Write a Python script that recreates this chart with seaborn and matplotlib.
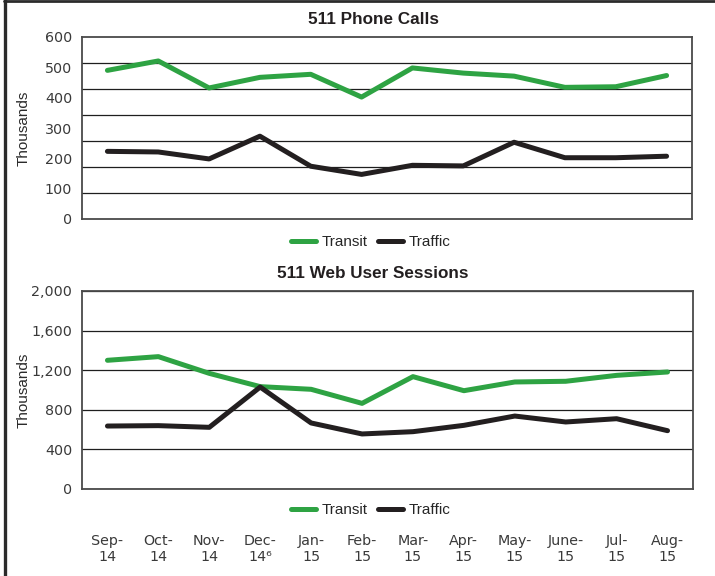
import numpy as np
import pandas as pd
import matplotlib
matplotlib.use("Agg")
import matplotlib.pyplot as plt
import seaborn as sns
from matplotlib.lines import Line2D

# ---------------- data ----------------
months = ["Sep-14", "Oct-14", "Nov-14", "Dec-14", "Jan-15", "Feb-15",
          "Mar-15", "Apr-15", "May-15", "June-15", "Jul-15", "Aug-15"]
tick_labels = ["Sep-\n14", "Oct-\n14", "Nov-\n14", "Dec-\n14\u2076", "Jan-\n15", "Feb-\n15",
               "Mar-\n15", "Apr-\n15", "May-\n15", "June-\n15", "Jul-\n15", "Aug-\n15"]
phone_transit = [490, 521, 432, 467, 477, 402, 498, 481, 471, 434, 436, 473]
phone_traffic = [223, 221, 198, 273, 174, 147, 177, 175, 253, 202, 202, 207]
web_transit = [1300, 1337, 1168, 1034, 1007, 865, 1135, 993, 1081, 1088, 1148, 1182]
web_traffic = [636, 640, 623, 1030, 667, 556, 579, 643, 737, 677, 710, 589]
phone_ticks = [0, 100, 200, 300, 400, 500, 600]
web_ticks = [0, 400, 800, 1200, 1600, 2000]
series_names = ["Transit", "Traffic"]
colors = {"Transit": "#2ea343", "Traffic": "#231f20"}
titles = ["511 Phone Calls", "511 Web User Sessions"]

sns.set_style("white")
plt.rcParams["font.family"] = ["DejaVu Sans"]

W, H = 715, 576
fig = plt.figure(figsize=(W / 100, H / 100), dpi=100)

def fx(px):
    return px / W

def fy(py):
    return 1 - py / H

ax1 = fig.add_axes([fx(82), fy(219), fx(692) - fx(82), fy(37) - fy(219)])
ax2 = fig.add_axes([fx(82), fy(489), fx(693) - fx(82), fy(291) - fy(489)])

def make_df(transit, traffic):
    return pd.DataFrame({
        "Month": months * 2,
        "Series": [series_names[0]] * len(months) + [series_names[1]] * len(months),
        "Value": list(transit) + list(traffic),
    })

spine_col = "#4a4a4a"
tick_col = "#3a3a3a"
title_font = ["Liberation Sans", "DejaVu Sans"]

for ax, df, ticks, title, ytop, ybot, leg_y in [
    (ax1, make_df(phone_transit, phone_traffic), phone_ticks, titles[0], 37, 219, 242),
    (ax2, make_df(web_transit, web_traffic), web_ticks, titles[1], 291, 489, 510),
]:
    sns.lineplot(data=df, x="Month", y="Value", hue="Series", palette=colors,
                 linewidth=3.6, sort=False, ax=ax, solid_capstyle="round")
    ax.set_xlim(-0.5, len(months) - 0.5)
    ax.set_ylim(ticks[0], ticks[-1])
    ax.set_yticks(ticks)
    ax.set_yticklabels([f"{t:,}" for t in ticks])
    ax.set_xticks(range(len(months)))
    ax.set_xlabel("")
    ax.set_ylabel("Thousands", fontsize=11, family=title_font, color="#2a2a2a")
    ax.yaxis.set_label_coords(-(82 - 31) / 610, 0.5)
    for s in ax.spines.values():
        s.set_visible(True)
        s.set_color(spine_col)
        s.set_linewidth(1.3)
    ax.tick_params(axis="y", which="major", direction="out", length=3, width=1,
                   color=spine_col, pad=4, labelsize=10.3, labelcolor=tick_col)
    ax.tick_params(axis="x", which="major", direction="out", length=3.6, width=1,
                   color=spine_col)
    # legend
    handles, labels = ax.get_legend_handles_labels()
    ax.legend(handles, labels, loc="center", ncol=2, frameon=False,
              bbox_to_anchor=(fx(371), fy(leg_y)), bbox_transform=fig.transFigure,
              handlelength=1.6, handletextpad=0.4, columnspacing=0.7,
              prop={"family": title_font, "size": 11})
    # title
    fig.text(fx(373), fy(ytop - 17), title, ha="center", va="center",
             fontsize=12.3, fontweight="bold", family=title_font, color="#231f20")

# top chart: evenly spaced gridlines, no x labels
ax1.set_yticks(np.linspace(phone_ticks[0], phone_ticks[-1], 8), minor=True)
ax1.tick_params(axis="y", which="minor", length=0)
ax1.grid(which="minor", axis="y", color="#1e1e1e", linewidth=0.9)
ax1.grid(which="major", axis="y", visible=False)
ax1.grid(axis="x", visible=False)
ax1.tick_params(axis="x", labelbottom=False)

# bottom chart
ax2.grid(which="major", axis="y", color="#1e1e1e", linewidth=0.9)
ax2.grid(axis="x", visible=False)
ax2.set_xticklabels(tick_labels)
ax2.tick_params(axis="x", pad=28.5, labelsize=10.3, labelcolor=tick_col)
for lbl in ax2.get_xticklabels():
    lbl.set_linespacing(1.2)

# outer frame lines
fig.add_artist(Line2D([fx(4), 1.0], [fy(1), fy(1)], transform=fig.transFigure,
                      color="#2b2b2b", linewidth=2.0))
fig.add_artist(Line2D([fx(5), fx(5)], [fy(0), fy(H)], transform=fig.transFigure,
                      color="#2b2b2b", linewidth=2.4))

fig.savefig("out.png", dpi=100)
